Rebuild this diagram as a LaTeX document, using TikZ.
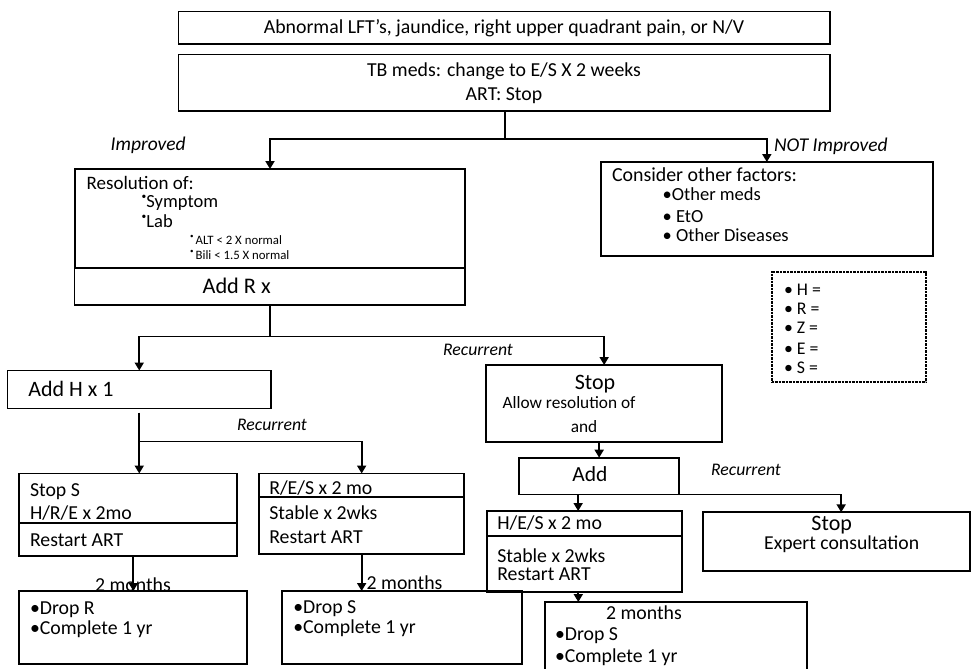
\documentclass[tikz,border=0pt]{standalone}
\usepackage{fontspec}
\setmainfont{Carlito}
\usetikzlibrary{arrows.meta}
\newcommand\fs[1]{\fontsize{#1}{#1}\selectfont}
\newcommand\ub{\raisebox{0.42em}{\fs{9.5}•}}
\newcommand\ubs{\raisebox{0.42em}{\fs{7}•}}
\tikzset{
  box/.style={draw, line width=1.9pt, inner sep=0pt, outer sep=0pt, anchor=north west},
  legbox/.style={draw, line width=1.9pt, dash pattern=on 0.9pt off 0.5pt, inner sep=0pt, outer sep=0pt, anchor=north west},
  conn/.style={line width=1.9pt},
  thick conn/.style={line width=2.8pt},
  arr/.style={line width=1.9pt, -{Triangle[width=9pt,length=8pt]}},
  tx/.style={inner sep=0pt, outer sep=0pt, font=\fs{#1}, yshift={-0.32*#1pt}},
  itx/.style={inner sep=0pt, outer sep=0pt, font=\fs{#1}\itshape, yshift={-0.32*#1pt}},
  L/.style={anchor=base west},
  C/.style={anchor=base},
}
\begin{document}
\begin{tikzpicture}[x=1pt,y=-1pt]
\useasboundingbox (0,0) rectangle (972,669);
\clip (0,0) rectangle (972,669);

% ---------- boxes ----------
\node[box, minimum width=651.5pt, minimum height=32.5pt] (b1) at (178.5,11.5) {};
\node[box, minimum width=651.5pt, minimum height=56.5pt] (b2) at (178.5,54.5) {};
\node[box, minimum width=390pt, minimum height=99pt] (b3) at (75,169) {};
\node[box, minimum width=390.5pt, minimum height=37pt] (bR) at (74.5,268) {};
\node[box, minimum width=331.7pt, minimum height=94pt] (b4) at (601,162) {};
\node[legbox, minimum width=154.3pt, minimum height=110.6pt] (bLeg) at (771.7,271.7) {};
\node[box, minimum width=263.5pt, minimum height=38pt] (bH) at (7.5,370.5) {};
\node[box, minimum width=236.3pt, minimum height=76.7pt] (bStop) at (486,365) {};
\node[box, minimum width=217.7pt, minimum height=82.5pt] (bS) at (19,473.5) {};
\node[box, minimum width=205.3pt, minimum height=80.5pt] (bRES) at (259,473.5) {};
\node[box, minimum width=159.7pt, minimum height=36.8pt] (bAdd) at (519.3,457.7) {};
\node[box, minimum width=194.4pt, minimum height=81.3pt] (bHES) at (487.3,511) {};
\node[box, minimum width=266.7pt, minimum height=58.7pt] (bExp) at (703.3,512.3) {};
\node[box, minimum width=228.3pt, minimum height=73pt] (bDR) at (19,591) {};
\node[box, minimum width=240pt, minimum height=73pt] (bDS) at (281.7,591) {};
\node[box, minimum width=262pt, minimum height=98pt] (bLast) at (545,602) {};

% dividers
\draw[conn] (bS.west |- 0,523.3) -- (bS.east |- 0,523.3);
\draw[conn] (bRES.west |- 0,497.3) -- (bRES.east |- 0,497.3);
\draw[conn] (bHES.west |- 0,536) -- (bHES.east |- 0,536);

% ---------- connectors ----------
\coordinate (j1) at (505,139);
\draw[thick conn] (j1 |- b2.south) -- (j1);
\draw[arr] (j1) -| (b3.north);
\draw[arr] (j1) -| (b4.north);

\coordinate (j2) at (bR.south |- 0,336.5);
\draw[conn] (bR.south) -- (j2);
\draw[arr] (j2) -| (bH.north);
\draw[arr] (j2) -| (bStop.north);

\coordinate (j3) at (bH.south |- 0,441.5);
\draw[conn] ([yshift=-4pt]bH.south) -- (j3);
\draw[arr] (j3) -- (j3 |- bS.north);
\draw[arr] (j3) -| (bRES.north);

\draw[arr] ([xshift=5.5pt]bS.south) -- ([xshift=5.5pt]bS.south |- bDR.north);
\draw[arr] (bRES.south) -- (bRES.south |- bDS.north);

\draw[arr] ([xshift=-5pt]bStop.south) -- ([xshift=-5pt]bStop.south |- bAdd.north);
\draw[arr] ([xshift=-21pt]bAdd.south) -- ([xshift=-21pt]bAdd.south |- bHES.north);
\draw[arr] (bAdd.south east) -| ([xshift=4.5pt]bExp.north);
\draw[arr] ([xshift=-6.2pt]bHES.south) -- ([xshift=-6.2pt]bHES.south |- bLast.north);

% ---------- texts ----------
\node[tx=19.8, C] (t1) at (504,27.5) {Abnormal LFT’s, jaundice, right upper quadrant pain, or N/V};
\node[tx=19.8, C] (t2a) at (504,70) {TB meds: change to E/S X 2 weeks};
\node[tx=19.8, C] (t2b) at (504,94.3) {ART: Stop};

\node[itx=19.5, L] (tImp) at (110.7,144.3) {Improved};
\node[itx=19.5, L] (tNot) at (774,145) {NOT Improved};

\node[tx=19, L] (t3a) at (86.7,183) {Resolution of:};
\node[tx=18.5, L] (t3b) at (141.7,201.7) {\ub Symptom};
\node[tx=18.5, L] (t3c) at (141.7,221.7) {\ub Lab};
\node[tx=12.8, L] (t3d) at (190,240) {\ubs\,ALT < 2 X normal};
\node[tx=12.8, L] (t3e) at (190,255) {\ubs\,Bili < 1.5 X normal};
\node[tx=22.3, C] (tR) at (236.7,286) {Add R x};

\node[tx=19.9, L] (t4a) at (612,175) {Consider other factors:};
\node[tx=18.5, L] (t4b) at (662.7,195) {•Other meds};
\node[tx=18.5, L] (t4c) at (662.7,216.7) {• EtO};
\node[tx=18.5, L] (t4d) at (662.7,236) {• Other Diseases};

\node[tx=17.8, L] (tl1) at (784,290) {• H =};
\node[tx=17.8, L] (tl2) at (784,309) {• R =};
\node[tx=17.8, L] (tl3) at (784,328) {• Z =};
\node[tx=17.8, L] (tl4) at (784,349) {• E =};
\node[tx=17.8, L] (tl5) at (784,368) {• S =};

\node[itx=17.7, C] (tRec1) at (478,349.5) {Recurrent};
\node[tx=22, L] (tH) at (28.3,389.5) {Add H x 1};
\node[itx=17.7, C] (tRec2) at (272,424.5) {Recurrent};

\node[tx=19.8, L] (tS1) at (30,490) {Stop S};
\node[tx=19.8, L] (tS2) at (30,513.3) {H/R/E x 2mo};
\node[tx=19.8, L] (tS3) at (30,540) {Restart ART};

\node[tx=19.8, L] (tE1) at (269.3,488.3) {R/E/S x 2 mo};
\node[tx=19.8, L] (tE2) at (269.3,513.3) {Stable x 2wks};
\node[tx=19.8, L] (tE3) at (269.3,536.7) {Restart ART};

\node[tx=19.8, C] (tM1) at (133,585) {2 months};
\node[tx=19.8, L] (tM2) at (366.7,583.3) {2 months};

\node[tx=19.8, L] (tD1) at (30,608.3) {•Drop R};
\node[tx=19.8, L] (tD2) at (30,628.3) {•Complete 1 yr};
\node[tx=19.8, L] (tD3) at (293.3,606.7) {•Drop S};
\node[tx=19.8, L] (tD4) at (293.3,626.7) {•Complete 1 yr};

\node[tx=22, C] (tSt1) at (595,382.7) {Stop};
\node[tx=17.3, L] (tSt2) at (502.7,403.3) {Allow resolution of};
\node[tx=17.3, C] (tSt3) at (584,427.3) {and};
\node[tx=21.5, C] (tAdd) at (590,474.5) {Add};
\node[itx=17.7, C] (tRec3) at (746,469.5) {Recurrent};

\node[tx=19.8, L] (tW1) at (497.3,522.7) {H/E/S x 2 mo};
\node[tx=19.8, L] (tW2) at (497.3,556) {Stable x 2wks};
\node[tx=19.8, L] (tW3) at (497.3,574.3) {Restart ART};

\node[tx=19.8, C] (tL1) at (644,613.3) {2 months};
\node[tx=19.8, L] (tL2) at (555,634.3) {•Drop S};
\node[tx=19.8, L] (tL3) at (555,656) {•Complete 1 yr};

\node[tx=22, C] (tX1) at (831.7,523.3) {Stop};
\node[tx=19.7, C] (tX2) at (841.7,542.7) {Expert consultation};
\end{tikzpicture}
\end{document}
